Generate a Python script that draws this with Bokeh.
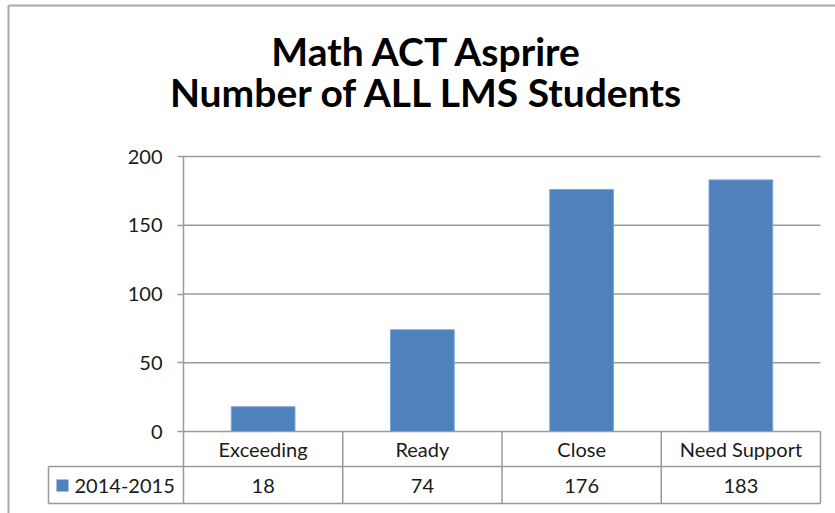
from bokeh.plotting import figure
from bokeh.models import Range1d
from bokeh.core.properties import value
from bokeh.embed import file_html
from bokeh.resources import INLINE

# ---- data ----
title_lines = ["Math ACT Asprire", "Number of ALL LMS Students"]
categories = ["Exceeding", "Ready", "Close", "Need Support"]
series_name = "2014-2015"
values = [18, 74, 176, 183]
y_ticks = [0, 50, 100, 150, 200]

# ---- layout constants (canvas pixels) ----
FONT = "Lato"
BAR_COLOR = "#4F81BD"
LINE_COLOR = "#9a9a9a"
BORDER_COLOR = "#a8a8a8"
TEXT_COLOR = "#1a1a1a"
W, H = 835, 513
AX_L, AX_R = 183, 820                 # plot area left / right
Y_TOP, Y_ZERO = 156, 431              # pixel of top tick / of zero
ROW1_BOTTOM, ROW2_BOTTOM = 466, 503
ROW1_BASE, ROW2_BASE = 448, 485
ROW2_LEFT = 48
TITLE_X = 427
TITLE_BASES = [50, 91]
BORDER_X, BORDER_Y = 8, 5
TABLE_FS = "20px"

n = len(categories)
dx = (AX_R - AX_L) / n                    # px per category
k = (Y_ZERO - Y_TOP) / y_ticks[-1]        # px per unit
U = lambda px: (px - AX_L) / dx           # pixel -> category coordinate
V = lambda py: (Y_ZERO - py) / k          # pixel -> value coordinate

p = figure(width=W, height=H, x_range=Range1d(U(0), U(W)), y_range=Range1d(V(H), V(0)),
           output_backend="svg", toolbar_location=None, x_axis_location=None,
           min_border_left=0, min_border_right=0, min_border_top=0, min_border_bottom=0)
p.outline_line_color = None
p.xgrid.visible = False
p.ygrid.visible = False

# y axis, pinned at the left edge of the plot area
ax = p.yaxis[0]
ax.fixed_location = 0
ax.bounds = (V(ROW2_BOTTOM), y_ticks[-1])
ax.ticker = y_ticks
ax.minor_tick_line_color = None
ax.major_tick_in = 0
ax.major_tick_out = 6
ax.major_tick_line_color = LINE_COLOR
ax.major_tick_line_width = 1.5
ax.axis_line_color = LINE_COLOR
ax.axis_line_width = 1.5
ax.major_label_standoff = 15
ax.major_label_text_font = FONT
ax.major_label_text_font_size = TABLE_FS
ax.major_label_text_color = TEXT_COLOR

# horizontal gridlines across the plot area
p.segment(x0=[0] * len(y_ticks), y0=y_ticks, x1=[n] * len(y_ticks), y1=y_ticks,
          line_color=LINE_COLOR, line_width=1.5)

# bars
xc = [i + 0.5 for i in range(n)]
p.vbar(x=xc, top=values, bottom=0, width=0.4,
       fill_color=BAR_COLOR, line_color="#7aa3d6", line_width=1)

# outer chart border (left and top edges)
p.segment(x0=[U(BORDER_X), U(BORDER_X)], y0=[V(BORDER_Y), V(BORDER_Y)],
          x1=[U(BORDER_X), U(W + 5)], y1=[V(H + 5), V(BORDER_Y)],
          line_color=BORDER_COLOR, line_width=2)

# ---- data table ----
yr1, yr2 = V(ROW1_BOTTOM), V(ROW2_BOTTOM)
p.segment(x0=[U(ROW2_LEFT)] * 2, y0=[yr1, yr2], x1=[n, n], y1=[yr1, yr2],
          line_color=LINE_COLOR, line_width=1.5)
vx = list(range(1, n + 1))
p.segment(x0=vx, y0=[0] * n, x1=vx, y1=[yr2] * n, line_color=LINE_COLOR, line_width=1.5)
p.segment(x0=[U(ROW2_LEFT)], y0=[yr1], x1=[U(ROW2_LEFT)], y1=[yr2],
          line_color=LINE_COLOR, line_width=1.5)
p.text(x=xc, y=[V(ROW1_BASE)] * n, text=categories,
       text_font=value(FONT), text_font_size=TABLE_FS, text_color=TEXT_COLOR,
       text_align="center", text_baseline="alphabetic")
p.text(x=xc, y=[V(ROW2_BASE)] * n, text=[str(v) for v in values],
       text_font=value(FONT), text_font_size=TABLE_FS, text_color=TEXT_COLOR,
       text_align="center", text_baseline="alphabetic")

# legend key cell
p.rect(x=[U(62)], y=[V(485)], width=12, height=12, width_units="screen",
       height_units="screen", fill_color=BAR_COLOR, line_color=None)
p.text(x=[U(74)], y=[V(ROW2_BASE)], text=[series_name],
       text_font=value(FONT), text_font_size=TABLE_FS, text_color=TEXT_COLOR,
       text_align="left", text_baseline="alphabetic")

# title
p.text(x=[U(TITLE_X)] * 2, y=[V(b) for b in TITLE_BASES], text=title_lines,
       text_font=value(FONT), text_font_style="bold", text_font_size="39px",
       text_color="#000000", text_align="center", text_baseline="alphabetic")

open("out.html", "w").write(file_html(p, INLINE))
